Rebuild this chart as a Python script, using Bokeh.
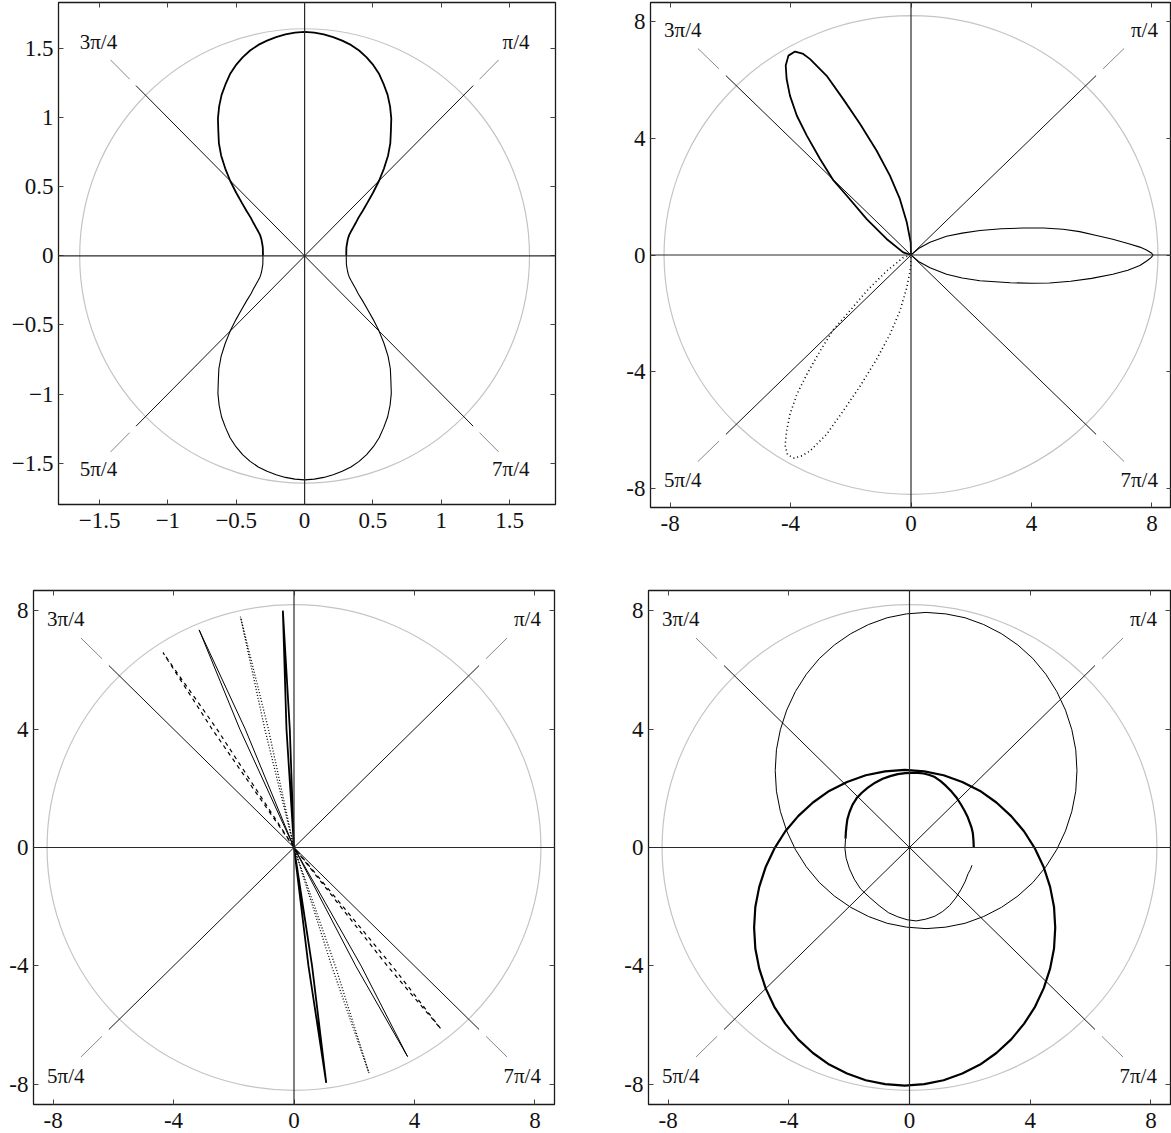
import numpy as np
from bokeh.plotting import figure
from bokeh.layouts import row, column
from bokeh.models import Span, LinearAxis, FixedTicker, Range1d
from bokeh.embed import file_html
from bokeh.resources import INLINE
from bokeh.core.properties import value

FONT = "Liberation Serif, serif"
TICK_FS = "23px"
LABEL_FS = "21px"

# ---------------- shared polar decoration ----------------
angle_deg = [45, 135, 225, 315]
angle_labels = ["π/4", "3π/4", "5π/4", "7π/4"]

# ---------------- panel 1 (top left) ----------------
p1_ticks = [-1.5, -1, -0.5, 0, 0.5, 1, 1.5]
p1_tick_labels = ["−1.5", "−1", "−0.5", "0", "0.5", "1", "1.5"]
p1_circle_r = 1.645
# angle grid (degrees), 2.5 degree steps
p1_theta_upper = [i * 2.5 for i in range(73)]          # 0 .. 180
p1_theta_lower = [180 + i * 2.5 for i in range(73)]    # 180 .. 360
p1_r_upper = [0.305, 0.305, 0.306, 0.308, 0.31, 0.314, 0.32, 0.327, 0.335, 0.346, 0.36, 0.382,
              0.41, 0.443, 0.48, 0.535, 0.60, 0.68, 0.77, 0.86, 0.95, 1.03, 1.10, 1.18, 1.25,
              1.315, 1.37, 1.425, 1.47, 1.508, 1.54, 1.565, 1.583, 1.598, 1.61, 1.618, 1.622,
              1.618, 1.61, 1.598, 1.583, 1.565, 1.54, 1.508, 1.47, 1.425, 1.37, 1.315, 1.25, 1.18,
              1.10, 1.03, 0.95, 0.86, 0.77, 0.68, 0.60, 0.535, 0.48, 0.443, 0.41, 0.382, 0.36,
              0.346, 0.335, 0.327, 0.32, 0.314, 0.31, 0.308, 0.306, 0.305, 0.305]
p1_r_lower = [0.305, 0.305, 0.306, 0.308, 0.31, 0.314, 0.32, 0.327, 0.335, 0.346, 0.36, 0.382,
              0.41, 0.443, 0.48, 0.535, 0.60, 0.68, 0.77, 0.86, 0.95, 1.03, 1.10, 1.18, 1.25,
              1.315, 1.37, 1.425, 1.47, 1.508, 1.54, 1.565, 1.583, 1.598, 1.61, 1.618, 1.622,
              1.618, 1.61, 1.598, 1.583, 1.565, 1.54, 1.508, 1.47, 1.425, 1.37, 1.315, 1.25, 1.18,
              1.10, 1.03, 0.95, 0.86, 0.77, 0.68, 0.60, 0.535, 0.48, 0.443, 0.41, 0.382, 0.36,
              0.346, 0.335, 0.327, 0.32, 0.314, 0.31, 0.308, 0.306, 0.305, 0.305]

# ---------------- panels 2-4 ----------------
ticks8 = [-8, -4, 0, 4, 8]
tick8_labels = ["-8", "-4", "0", "4", "8"]
circle_r8 = 8.2

# panel 2: three petals
p2_right_x = [0, 0.25, 0.63, 1.18, 1.7, 2.29, 3.0, 3.73, 4.4, 5.05, 5.6, 6.16, 6.7, 7.26, 7.6, 7.82,
              7.98, 8.04, 7.98, 7.85, 7.6, 7.2, 6.7, 6.0, 5.3, 4.6, 4.0, 3.3, 2.29, 1.7, 1.18, 0.63,
              0.25, 0]
p2_right_y = [0, 0.22, 0.44, 0.64, 0.75, 0.84, 0.90, 0.925, 0.925, 0.88, 0.80, 0.67, 0.54, 0.38, 0.27,
              0.17, 0.07, 0, -0.08, -0.19, -0.36, -0.52, -0.66, -0.80, -0.90, -0.96, -0.97, -0.95,
              -0.88, -0.79, -0.66, -0.44, -0.22, 0]
p2_upper_x = [0, -0.26, -0.81, -1.47, -2.13, -2.58, -3.02, -3.46, -3.79, -4.02, -4.13, -4.16, -4.07,
              -3.85, -3.60, -3.35, -2.80, -2.25, -1.69, -1.14, -0.70, -0.37, -0.14, -0.01, 0]
p2_upper_y = [0, 0.09, 0.55, 1.23, 2.03, 2.56, 3.29, 4.09, 4.77, 5.46, 6.03, 6.49, 6.83, 6.97, 6.90,
              6.71, 6.14, 5.34, 4.49, 3.57, 2.72, 1.92, 1.12, 0.43, 0]
p2_lower_x = [0, -0.26, -0.81, -1.47, -2.13, -2.58, -3.02, -3.46, -3.79, -4.02, -4.13, -4.18, -4.10,
              -3.88, -3.62, -3.35, -2.80, -2.25, -1.69, -1.14, -0.70, -0.37, -0.14, -0.01, 0]
p2_lower_y = [0, -0.09, -0.55, -1.23, -2.03, -2.56, -3.29, -4.09, -4.77, -5.46, -6.03, -6.52, -6.84,
              -6.96, -6.88, -6.71, -6.14, -5.34, -4.49, -3.57, -2.72, -1.92, -1.12, -0.43, 0]

# panel 3: four narrow loops
p3_a_x = [0, -0.25, -0.37, -0.14, 0, 0.48, 1.07, 0.60, 0]
p3_a_y = [0, 4.0, 8.0, 4.0, 0, -4.0, -7.95, -4.0, 0]
p3_b_x = [0, -0.97, -1.78, -0.85, 0, 1.25, 2.49, 1.37, 0]
p3_b_y = [0, 4.0, 7.8, 4.0, 0, -4.0, -7.62, -4.0, 0]
p3_c_x = [0, -1.80, -3.15, -1.62, 0, 2.05, 3.77, 2.23, 0]
p3_c_y = [0, 4.0, 7.35, 4.0, 0, -4.0, -7.06, -4.0, 0]
p3_d_x = [0, -2.72, -4.35, -2.56, 0, 3.10, 4.88, 3.26, 0]
p3_d_y = [0, 4.0, 6.58, 4.0, 0, -4.0, -6.13, -4.0, 0]

# panel 4: spiral pieces and two large loops
p4_thick_inner_x = [2.13, 2.12, 2.10, 2.06, 2.0, 1.92, 1.82, 1.70, 1.57, 1.40, 1.21, 1.03, 0.84,
                    0.66, 0.47, 0.28, 0.10, -0.14, -0.39, -0.64, -0.89, -1.14, -1.38, -1.58, -1.75,
                    -1.89, -1.99, -2.06, -2.09, -2.11, -2.12]
p4_thick_inner_y = [0, 0.24, 0.48, 0.66, 0.83, 1.05, 1.25, 1.46, 1.67, 1.88, 2.08, 2.24, 2.38, 2.45,
                    2.50, 2.52, 2.52, 2.51, 2.48, 2.41, 2.32, 2.19, 2.02, 1.85, 1.67, 1.44, 1.19,
                    0.95, 0.71, 0.50, 0.30]
p4_thin_inner_x = [-2.12, -2.14, -2.10, -1.99, -1.83, -1.62, -1.34, -1.01, -0.70, -0.39, -0.08,
                   0.22, 0.54, 0.84, 1.10, 1.33, 1.53, 1.70, 1.84, 1.94, 2.02, 2.07]
p4_thin_inner_y = [0.30, -0.03, -0.36, -0.72, -1.07, -1.40, -1.67, -1.96, -2.20, -2.34, -2.44, -2.48,
                   -2.42, -2.32, -2.16, -1.96, -1.71, -1.43, -1.16, -0.89, -0.74, -0.60]
p4_thick_outer_x = [4.83, 4.79, 4.66, 4.45, 4.16, 3.80, 3.37, 2.88, 2.34, 1.75, 1.13, 0.49, -0.16,
                    -0.81, -1.45, -2.07, -2.66, -3.20, -3.69, -4.12, -4.48, -4.77, -4.98, -5.11,
                    -5.15, -5.11, -4.98, -4.77, -4.48, -4.12, -3.69, -3.20, -2.66, -2.07, -1.45,
                    -0.81, -0.16, 0.49, 1.13, 1.75, 2.34, 2.88, 3.37, 3.80, 4.16, 4.45, 4.66, 4.79,
                    4.83]
p4_thick_outer_y = [-2.71, -2.01, -1.33, -0.67, -0.04, 0.54, 1.06, 1.52, 1.91, 2.21, 2.44, 2.57, 2.62,
                    2.57, 2.44, 2.21, 1.91, 1.52, 1.06, 0.54, -0.04, -0.67, -1.33, -2.01, -2.71,
                    -3.41, -4.09, -4.75, -5.38, -5.95, -6.48, -6.94, -7.33, -7.63, -7.86, -7.99,
                    -8.04, -7.99, -7.86, -7.63, -7.33, -6.94, -6.48, -5.95, -5.38, -4.75, -4.09,
                    -3.41, -2.71]
p4_thin_outer_x = [5.55, 5.51, 5.38, 5.17, 4.88, 4.52, 4.09, 3.59, 3.05, 2.46, 1.84, 1.20, 0.55,
                   -0.10, -0.74, -1.36, -1.95, -2.49, -2.99, -3.42, -3.78, -4.07, -4.28, -4.41,
                   -4.45, -4.41, -4.28, -4.07, -3.78, -3.42, -2.99, -2.49, -1.95, -1.36, -0.74,
                   -0.10, 0.55, 1.20, 1.84, 2.46, 3.05, 3.59, 4.09, 4.52, 4.88, 5.17, 5.38, 5.51,
                   5.55]
p4_thin_outer_y = [2.60, 3.30, 3.98, 4.64, 5.27, 5.85, 6.38, 6.84, 7.22, 7.53, 7.76, 7.89, 7.94, 7.89,
                   7.76, 7.53, 7.22, 6.84, 6.38, 5.85, 5.27, 4.64, 3.98, 3.30, 2.60, 1.90, 1.22, 0.56,
                   -0.07, -0.65, -1.18, -1.64, -2.02, -2.33, -2.56, -2.69, -2.74, -2.69, -2.56,
                   -2.33, -2.02, -1.64, -1.18, -0.65, -0.07, 0.56, 1.22, 1.90, 2.60]


def make_panel(xr, yr, fw, fh, bl, br, bt, bb, ticks, tick_labels, R):
    p = figure(x_range=Range1d(*xr), y_range=Range1d(*yr),
               frame_width=fw, frame_height=fh,
               min_border_left=bl, min_border_right=br, min_border_top=bt, min_border_bottom=bb,
               output_backend="svg", toolbar_location=None,
               background_fill_color="white", border_fill_color="white")
    p.xgrid.grid_line_color = None
    p.ygrid.grid_line_color = None
    p.outline_line_color = "#1a1a1a"
    p.outline_line_width = 1.3
    overrides = {t: l for t, l in zip(ticks, tick_labels)}
    for ax in [p.xaxis[0], p.yaxis[0]]:
        ax.ticker = FixedTicker(ticks=ticks, minor_ticks=[])
        ax.major_label_overrides = overrides
        ax.major_label_text_font = FONT
        ax.major_label_text_font_size = TICK_FS
        ax.major_label_text_color = "#111111"
        ax.major_tick_in = 5
        ax.major_tick_out = 0
        ax.major_tick_line_color = "#444444"
        ax.minor_tick_line_color = None
        ax.axis_line_color = None
    p.xaxis[0].major_label_standoff = 8
    p.yaxis[0].major_label_standoff = 5
    for side in ["above", "right"]:
        ax = LinearAxis(ticker=FixedTicker(ticks=ticks, minor_ticks=[]),
                        major_label_text_color=None, major_label_standoff=0,
                        major_tick_in=5, major_tick_out=0, axis_line_color=None,
                        minor_tick_line_color=None, major_tick_line_color="#444444")
        p.add_layout(ax, side)

    # reference circle
    p.ellipse(x=[0], y=[0], width=[2 * R], height=[2 * R], fill_color=None,
              line_color="#c4c4c4", line_width=1.2)
    # axes through origin
    p.add_layout(Span(location=0, dimension="width", line_color="#2a2a2a", line_width=1.2))
    p.add_layout(Span(location=0, dimension="height", line_color="#2a2a2a", line_width=1.2))
    # diagonal rays
    rad = np.radians(angle_deg)
    c, s = np.cos(rad), np.sin(rad)
    p.segment(x0=[0] * 4, y0=[0] * 4, x1=1.06 * R * c, y1=1.06 * R * s,
              line_color="#111111", line_width=1.0)
    p.segment(x0=1.10 * R * c, y0=1.10 * R * s, x1=1.22 * R * c, y1=1.22 * R * s,
              line_color="#888888", line_width=1.0)
    # angle labels
    sx, sy = np.sign(c), np.sign(s)
    for side_sign, align in [(1, "right"), (-1, "left")]:
        idx = [i for i in range(4) if sx[i] == side_sign]
        p.text(x=[R * sx[i] for i in idx], y=[0.94 * R * sy[i] for i in idx],
               text=[angle_labels[i] for i in idx], text_align=align, text_baseline="middle",
               text_font=value(FONT), text_font_size=LABEL_FS, text_color="#111111")
    return p


def polar_xy(theta_deg, r):
    t = np.radians(theta_deg)
    r = np.asarray(r, dtype=float)
    return r * np.cos(t), r * np.sin(t)


# ---- panel 1
p1 = make_panel((-1.80, 1.835), (-1.80, 1.835), 497, 502, 58, 35, 2, 66,
                p1_ticks, p1_tick_labels, p1_circle_r)
x, y = polar_xy(p1_theta_upper, p1_r_upper)
p1.line(x, y, line_color="black", line_width=1.8)
x, y = polar_xy(p1_theta_lower, p1_r_lower)
p1.line(x, y, line_color="black", line_width=1.1)

# ---- panel 2
p2 = make_panel((-8.65, 8.65), (-8.65, 8.65), 521, 505, 60, 0, 0, 65,
                ticks8, tick8_labels, circle_r8)
p2.line(p2_right_x, p2_right_y, line_color="black", line_width=1.1)
p2.line(p2_upper_x, p2_upper_y, line_color="black", line_width=1.8)
p2.line(p2_lower_x, p2_lower_y, line_color="black", line_width=1.6, line_dash="1 3")

# ---- panel 3
p3 = make_panel((-8.65, 8.65), (-8.68, 8.68), 521, 514, 33, 34, 20, 29,
                ticks8, tick8_labels, circle_r8)
p3.line(p3_a_x, p3_a_y, line_color="black", line_width=1.8)
p3.line(p3_b_x, p3_b_y, line_color="black", line_width=1.3, line_dash="1 2")
p3.line(p3_c_x, p3_c_y, line_color="black", line_width=1.0)
p3.line(p3_d_x, p3_d_y, line_color="black", line_width=1.2, line_dash="4 4")

# ---- panel 4
p4 = make_panel((-8.65, 8.65), (-8.68, 8.68), 522, 514, 60, 1, 20, 29,
                ticks8, tick8_labels, circle_r8)
p4.line(p4_thin_outer_x, p4_thin_outer_y, line_color="black", line_width=1.0)
p4.line(p4_thin_inner_x, p4_thin_inner_y, line_color="black", line_width=1.0)
p4.line(p4_thick_outer_x, p4_thick_outer_y, line_color="black", line_width=2.2)
p4.line(p4_thick_inner_x, p4_thick_inner_y, line_color="black", line_width=2.2)

layout = column(row(p1, p2), row(p3, p4))
layout.margin = (0, 0, -40, 0)

open("out.html", "w").write(file_html(layout, INLINE))
